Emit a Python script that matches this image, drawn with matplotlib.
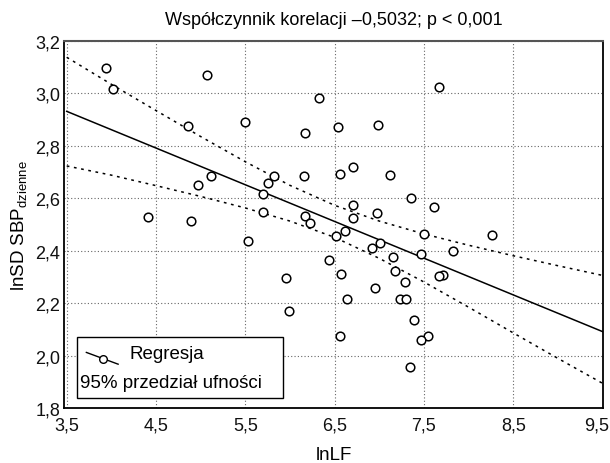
import numpy as np
import matplotlib.pyplot as plt
from matplotlib.patches import Rectangle
from matplotlib.lines import Line2D
from matplotlib.transforms import ScaledTranslation

plt.rcParams['font.family'] = ['Liberation Sans', 'DejaVu Sans']
plt.rcParams['mathtext.fontset'] = 'custom'
plt.rcParams['mathtext.rm'] = 'Liberation Sans'

# dane
lnlf = [3.94, 5.07, 4.02, 6.32, 4.86, 5.50, 6.17, 6.54, 5.12, 4.97,
        5.82, 5.75, 6.16, 6.56, 5.70, 7.67, 6.98, 6.71, 7.12, 7.35,
        4.41, 4.89, 5.70, 6.17, 6.22, 6.52, 5.53, 6.44, 5.95, 6.57,
        5.99, 6.56, 6.71, 7.61, 6.97, 6.70, 6.62, 7.50, 8.26, 7.01,
        6.92, 7.83, 7.47, 7.15, 7.17, 7.71, 7.67, 7.29, 6.95, 6.64,
        7.23, 7.30, 7.39, 7.55, 7.47, 7.34]
lnsd = [3.096, 3.068, 3.015, 2.982, 2.874, 2.889, 2.848, 2.872, 2.685, 2.651,
        2.685, 2.658, 2.685, 2.694, 2.617, 3.024, 2.878, 2.720, 2.687, 2.601,
        2.527, 2.512, 2.549, 2.531, 2.507, 2.456, 2.438, 2.366, 2.296, 2.310,
        2.169, 2.076, 2.574, 2.565, 2.545, 2.524, 2.474, 2.464, 2.459, 2.429,
        2.410, 2.399, 2.386, 2.375, 2.323, 2.309, 2.303, 2.281, 2.258, 2.215,
        2.216, 2.216, 2.135, 2.076, 2.059, 1.956]

reg_x = [3.5, 9.5]
reg_y = [2.931, 2.092]

ci_x = [3.5, 4.0, 4.5, 5.0, 5.5, 6.0, 6.5, 7.0, 7.5, 8.0, 8.5, 9.0, 9.5]
ci_upper = [3.137, 3.034, 2.934, 2.835, 2.739, 2.649, 2.573, 2.513, 2.464, 2.421, 2.381, 2.343, 2.306]
ci_lower = [2.723, 2.688, 2.648, 2.607, 2.563, 2.513, 2.451, 2.371, 2.281, 2.185, 2.087, 1.990, 1.895]

xticks = [3.5, 4.5, 5.5, 6.5, 7.5, 8.5, 9.5]
xtick_labels = ['3,5', '4,5', '5,5', '6,5', '7,5', '8,5', '9,5']
yticks = [1.8, 2.0, 2.2, 2.4, 2.6, 2.8, 3.0, 3.2]
ytick_labels = ['1,8', '2,0', '2,2', '2,4', '2,6', '2,8', '3,0', '3,2']

fig = plt.figure(figsize=(6.1, 4.64), dpi=100)
ax = fig.add_axes([0.1054, 0.1179, 0.8825, 0.7922])

ax.plot(reg_x, reg_y, color='black', lw=1.1, zorder=3)
ax.plot(ci_x, ci_upper, color='black', lw=1.1, linestyle=(0, (1.8, 3)), zorder=3)
ax.plot(ci_x, ci_lower, color='black', lw=1.1, linestyle=(0, (1.8, 3)), zorder=3)
ax.plot(lnlf, lnsd, linestyle='none', marker='o', markersize=6.2,
        markerfacecolor='white', markeredgecolor='black', markeredgewidth=1.1, zorder=4)

ax.set_xlim(3.473, 9.5)
ax.set_ylim(1.8, 3.2)
ax.set_xticks(xticks)
ax.set_xticklabels(xtick_labels)
ax.set_yticks(yticks)
ax.set_yticklabels(ytick_labels)
ax.tick_params(axis='both', length=0, labelsize=13, colors='#111111')
ax.tick_params(axis='x', pad=6)
ax.tick_params(axis='y', pad=3)
ax.grid(True, color='#666666', linestyle=(0, (1, 2)), lw=0.8)
ax.set_axisbelow(True)

# ostatnia etykieta przesunieta w lewo, zeby sie miescila
last = ax.get_xticklabels()[-1]
last.set_transform(last.get_transform() + ScaledTranslation(-6 / 100, 0, fig.dpi_scale_trans))

for s in ['left', 'bottom', 'right']:
    ax.spines[s].set_linewidth(1.3)
    ax.spines[s].set_color('black')
ax.spines['top'].set_linewidth(1.5)
ax.spines['top'].set_color('#555555')

ax.set_title('Współczynnik korelacji –0,5032; p < 0,001', fontsize=13, pad=12)
ax.set_xlabel('lnLF', fontsize=13.5, labelpad=9)
ax.set_ylabel(r'lnSD SBP$_{\mathregular{dzienne}}$', fontsize=13.5, labelpad=4)

# legenda rysowana recznie
ax.add_patch(Rectangle((0.0245, 0.028), 0.3823, 0.1651, transform=ax.transAxes,
                       facecolor='white', edgecolor='black', lw=1.0, zorder=5))
ax.add_line(Line2D([0.041, 0.100], [0.152, 0.120], transform=ax.transAxes,
                   color='black', lw=1.0, zorder=6))
ax.add_line(Line2D([0.071], [0.134], transform=ax.transAxes, marker='o', markersize=5.5,
                   markerfacecolor='white', markeredgecolor='black', markeredgewidth=1.0, zorder=7))
ax.text(0.121, 0.148, 'Regresja', transform=ax.transAxes, fontsize=13.5,
        va='center', ha='left', zorder=7)
ax.text(0.030, 0.070, '95% przedział ufności', transform=ax.transAxes, fontsize=13.5,
        va='center', ha='left', zorder=7)

fig.savefig('out.png', dpi=100)
